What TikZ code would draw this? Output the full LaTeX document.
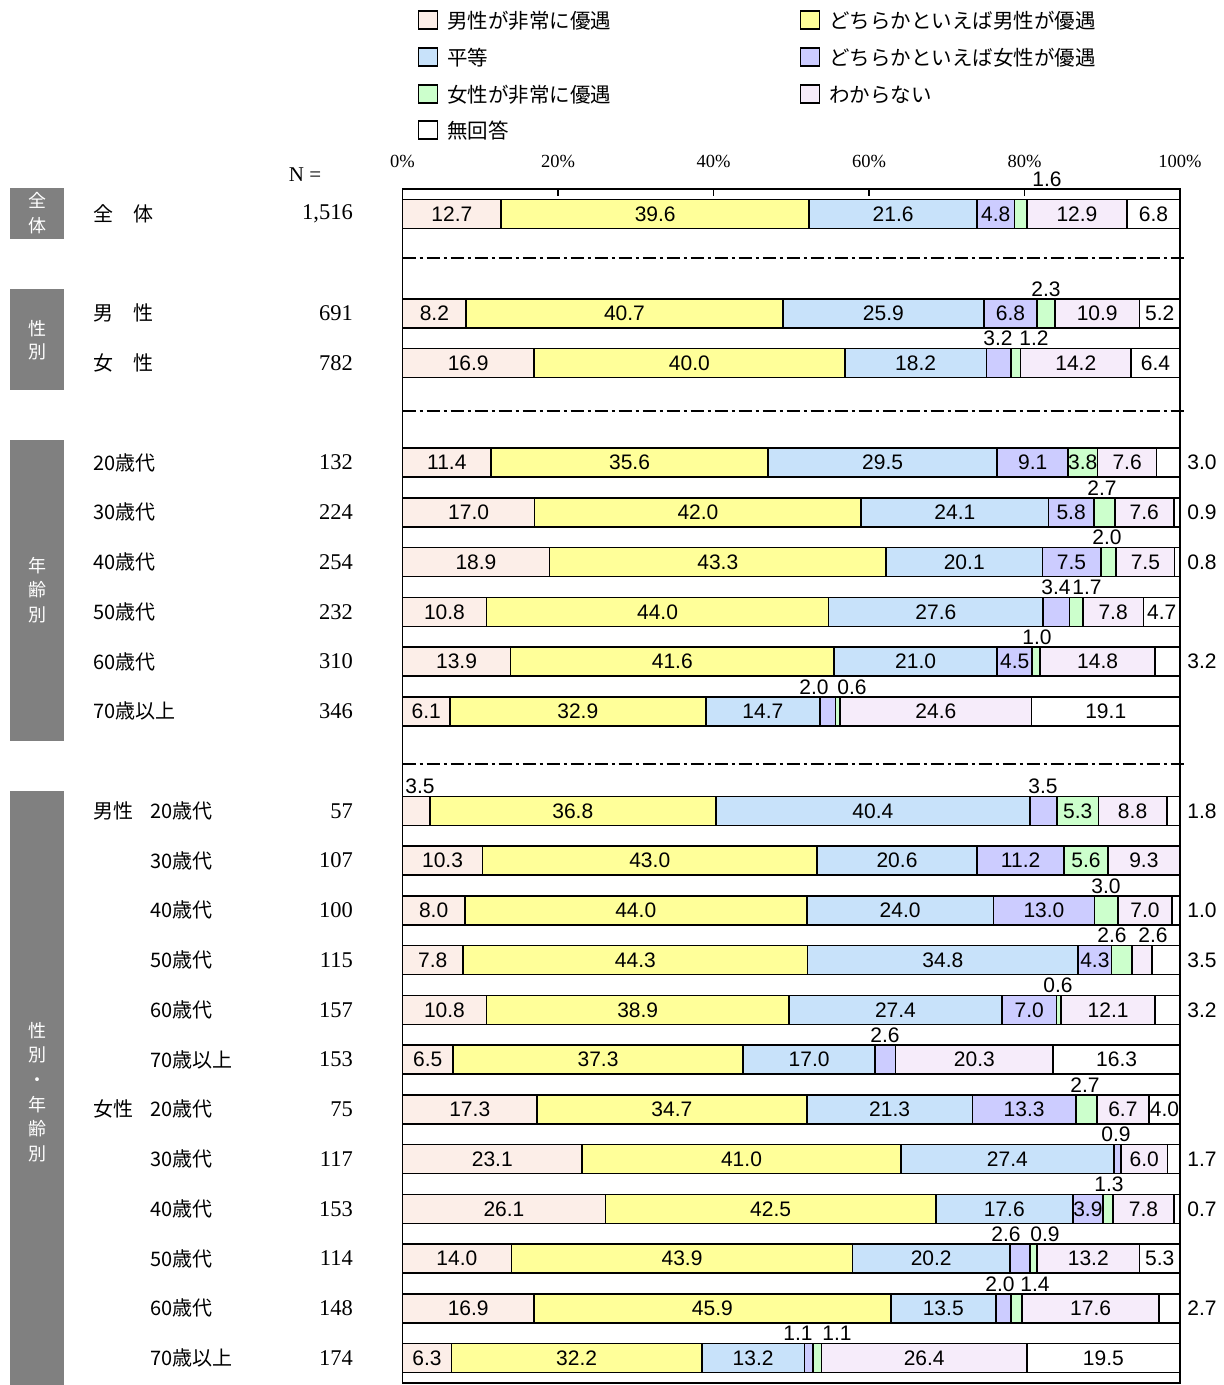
\documentclass[tikz,border=0pt]{standalone}
\usepackage{fontspec}
\setmainfont{Liberation Serif}
\newfontfamily\jp{Noto Sans CJK JP}
\newfontfamily\valf{Liberation Sans}
\definecolor{seg1}{RGB}{252,238,232}
\definecolor{seg2}{RGB}{255,255,153}
\definecolor{seg3}{RGB}{200,226,250}
\definecolor{seg4}{RGB}{204,204,255}
\definecolor{seg5}{RGB}{204,255,204}
\definecolor{seg6}{RGB}{246,236,250}
\definecolor{seg7}{RGB}{255,255,255}
\definecolor{catgray}{RGB}{128,128,128}
\tikzset{
  segbox/.style={draw=black,line width=1.6pt},
  val/.style={font=\valf\fontsize{21}{21}\selectfont,inner sep=0pt},
  jpl/.style={font=\jp\fontsize{20}{20}\selectfont,anchor=west,inner sep=0pt},
  nval/.style={font=\fontsize{22.5}{22.5}\selectfont,anchor=east,inner sep=0pt},
  axl/.style={font=\fontsize{18.5}{18.5}\selectfont,inner sep=0pt},
  legbox/.style={draw=black,line width=1.6pt,minimum width=19pt,minimum height=18pt,inner sep=0pt},
  legtxt/.style={font=\jp\fontsize{20.5}{20.5}\selectfont,anchor=west,inner sep=0pt},
  catbox/.style={fill=catgray},
  cattxt/.style={text=white,align=center,inner sep=0pt},
  frameline/.style={draw=black,line width=1.6pt},
  sepline/.style={draw=black,line width=1.4pt,dash pattern=on 13pt off 4pt on 3pt off 4pt},
}
\newcommand\drawbar[2]{%
  \pgfmathsetmacro\yc{213.8+49.75*#1}%
  \xdef\acc{0}%
  \foreach \v [count=\k] in {#2} {%
    \pgfmathsetmacro\xa{402.5+7.775*\acc}%
    \pgfmathsetmacro\xb{\k==7 ? 1180 : min(1180,402.5+7.775*(\acc+\v))}%
    \ifdim \v pt>0pt
      \filldraw[segbox,fill=seg\k] (\xa,\yc-14.5) rectangle (\xb,\yc+14.5);
      \ifdim \v pt>3.65pt
        \node[val] (v-#1-\k) at ({(\xa+\xb)/2},\yc) {\v};
      \fi
    \fi
    \pgfmathsetmacro\na{\acc+\v}%
    \xdef\acc{\na}%
  }%
}
\newcommand\olab[3]{%
  \pgfmathsetmacro\yy{213.8+49.75*#1-24.5}%
  \node[val] (o-#1-#2) at (#2,\yy) {#3};%
}
\newcommand\rlab[2]{%
  \pgfmathsetmacro\yy{213.8+49.75*#1}%
  \node[val] (r-#1) at (1202,\yy) {#2};%
}
\newcommand\rowl[4]{%
  \pgfmathsetmacro\yy{213.8+49.75*#1}%
  \node[jpl] (l-#1) at (#2,\yy) {#3};%
  \node[nval] (n-#1) at (353,\yy) {#4};%
}
\begin{document}
\begin{tikzpicture}[x=1pt,y=-1pt]
\useasboundingbox (0,0) rectangle (1224,1385);
% legend
\node[legbox,fill=seg1] (lb1) at (428,20) {};
\node[legtxt] (lt1) at (447,21) {男性が非常に優遇};
\node[legbox,fill=seg3] (lb3) at (428,57) {};
\node[legtxt] (lt3) at (447,58) {平等};
\node[legbox,fill=seg5] (lb5) at (428,94) {};
\node[legtxt] (lt5) at (447,95) {女性が非常に優遇};
\node[legbox,fill=seg7] (lb7) at (428,130) {};
\node[legtxt] (lt7) at (447,131) {無回答};
\node[legbox,fill=seg2] (lb2) at (810,20) {};
\node[legtxt] (lt2) at (829,21) {どちらかといえば男性が優遇};
\node[legbox,fill=seg4] (lb4) at (810,57) {};
\node[legtxt] (lt4) at (829,58) {どちらかといえば女性が優遇};
\node[legbox,fill=seg6] (lb6) at (810,94) {};
\node[legtxt] (lt6) at (829,95) {わからない};
% axis labels
\node[axl] (a0) at (402.5,161) {0\%};
\node[axl] (a20) at (558,161) {20\%};
\node[axl] (a40) at (713.5,161) {40\%};
\node[axl] (a60) at (869,161) {60\%};
\node[axl] (a80) at (1024.5,161) {80\%};
\node[axl] (a100) at (1180,161) {100\%};
\node[font=\fontsize{21}{21}\selectfont,inner sep=0pt] (nlab) at (305,175) {N =};
% category boxes
\fill[catbox] (10,188) rectangle (64,239);
\node[cattxt,font=\jp\fontsize{18}{25}\selectfont] (c1) at (37,213) {全\\体};
\fill[catbox] (10,289) rectangle (64,390);
\node[cattxt,font=\jp\fontsize{18}{23}\selectfont] (c2) at (37,340) {性\\別};
\fill[catbox] (10,440) rectangle (64,741);
\node[cattxt,font=\jp\fontsize{18}{24.5}\selectfont] (c3) at (37,590) {年\\齢\\別};
\fill[catbox] (10,791) rectangle (64,1385);
\node[cattxt,font=\jp\fontsize{18}{24.6}\selectfont] (c4) at (37,1092) {性\\別\\・\\年\\齢\\別};
% row labels
\rowl{0}{93}{全　体}{1,516}
\rowl{2}{93}{男　性}{691}
\rowl{3}{93}{女　性}{782}
\rowl{5}{93}{20歳代}{132}
\rowl{6}{93}{30歳代}{224}
\rowl{7}{93}{40歳代}{254}
\rowl{8}{93}{50歳代}{232}
\rowl{9}{93}{60歳代}{310}
\rowl{10}{93}{70歳以上}{346}
\rowl{12}{150}{20歳代}{57}
\rowl{13}{150}{30歳代}{107}
\rowl{14}{150}{40歳代}{100}
\rowl{15}{150}{50歳代}{115}
\rowl{16}{150}{60歳代}{157}
\rowl{17}{150}{70歳以上}{153}
\rowl{18}{150}{20歳代}{75}
\rowl{19}{150}{30歳代}{117}
\rowl{20}{150}{40歳代}{153}
\rowl{21}{150}{50歳代}{114}
\rowl{22}{150}{60歳代}{148}
\rowl{23}{150}{70歳以上}{174}
\node[jpl] (gm) at (93,810.8) {男性};
\node[jpl] (gf) at (93,1109.3) {女性};
% frame and ticks
\draw[frameline] (402.5,189) rectangle (1180,1383);
\foreach \t in {558,713.5,869,1024.5} \draw[line width=1.2pt] (\t,189) -- (\t,196);
% separators
\draw[sepline] (402.5,258) -- (1186,258);
\draw[sepline] (402.5,411) -- (1186,411);
\draw[sepline] (402.5,764) -- (1186,764);
% bars
\drawbar{0}{12.7,39.6,21.6,4.8,1.6,12.9,6.8}
\drawbar{2}{8.2,40.7,25.9,6.8,2.3,10.9,5.2}
\drawbar{3}{16.9,40.0,18.2,3.2,1.2,14.2,6.4}
\drawbar{5}{11.4,35.6,29.5,9.1,3.8,7.6,3.0}
\drawbar{6}{17.0,42.0,24.1,5.8,2.7,7.6,0.9}
\drawbar{7}{18.9,43.3,20.1,7.5,2.0,7.5,0.8}
\drawbar{8}{10.8,44.0,27.6,3.4,1.7,7.8,4.7}
\drawbar{9}{13.9,41.6,21.0,4.5,1.0,14.8,3.2}
\drawbar{10}{6.1,32.9,14.7,2.0,0.6,24.6,19.1}
\drawbar{12}{3.5,36.8,40.4,3.5,5.3,8.8,1.8}
\drawbar{13}{10.3,43.0,20.6,11.2,5.6,9.3,0}
\drawbar{14}{8.0,44.0,24.0,13.0,3.0,7.0,1.0}
\drawbar{15}{7.8,44.3,34.8,4.3,2.6,2.6,3.5}
\drawbar{16}{10.8,38.9,27.4,7.0,0.6,12.1,3.2}
\drawbar{17}{6.5,37.3,17.0,2.6,0,20.3,16.3}
\drawbar{18}{17.3,34.7,21.3,13.3,2.7,6.7,4.0}
\drawbar{19}{23.1,41.0,27.4,0.9,0,6.0,1.7}
\drawbar{20}{26.1,42.5,17.6,3.9,1.3,7.8,0.7}
\drawbar{21}{14.0,43.9,20.2,2.6,0.9,13.2,5.3}
\drawbar{22}{16.9,45.9,13.5,2.0,1.4,17.6,2.7}
\drawbar{23}{6.3,32.2,13.2,1.1,1.1,26.4,19.5}
% outside labels above bars
\node[val,fill=white,inner xsep=3pt,inner ysep=1pt] (o-0) at (1047,179.3) {1.6};
\olab{2}{1046}{2.3}
\olab{3}{998}{3.2}
\olab{3}{1034}{1.2}
\olab{6}{1102}{2.7}
\olab{7}{1107}{2.0}
\olab{8}{1056}{3.4}
\olab{8}{1087}{1.7}
\olab{9}{1037}{1.0}
\olab{10}{814}{2.0}
\olab{10}{852}{0.6}
\olab{12}{420}{3.5}
\olab{12}{1043}{3.5}
\olab{14}{1106}{3.0}
\olab{15}{1112}{2.6}
\olab{15}{1153}{2.6}
\olab{16}{1058}{0.6}
\olab{17}{885}{2.6}
\olab{18}{1085}{2.7}
\olab{19}{1116}{0.9}
\olab{20}{1109}{1.3}
\olab{21}{1006}{2.6}
\olab{21}{1045}{0.9}
\olab{22}{1000}{2.0}
\olab{22}{1035}{1.4}
\olab{23}{798}{1.1}
\olab{23}{837}{1.1}
% right labels
\rlab{5}{3.0}
\rlab{6}{0.9}
\rlab{7}{0.8}
\rlab{9}{3.2}
\rlab{12}{1.8}
\rlab{14}{1.0}
\rlab{15}{3.5}
\rlab{16}{3.2}
\rlab{19}{1.7}
\rlab{20}{0.7}
\rlab{22}{2.7}
\end{tikzpicture}
\end{document}
